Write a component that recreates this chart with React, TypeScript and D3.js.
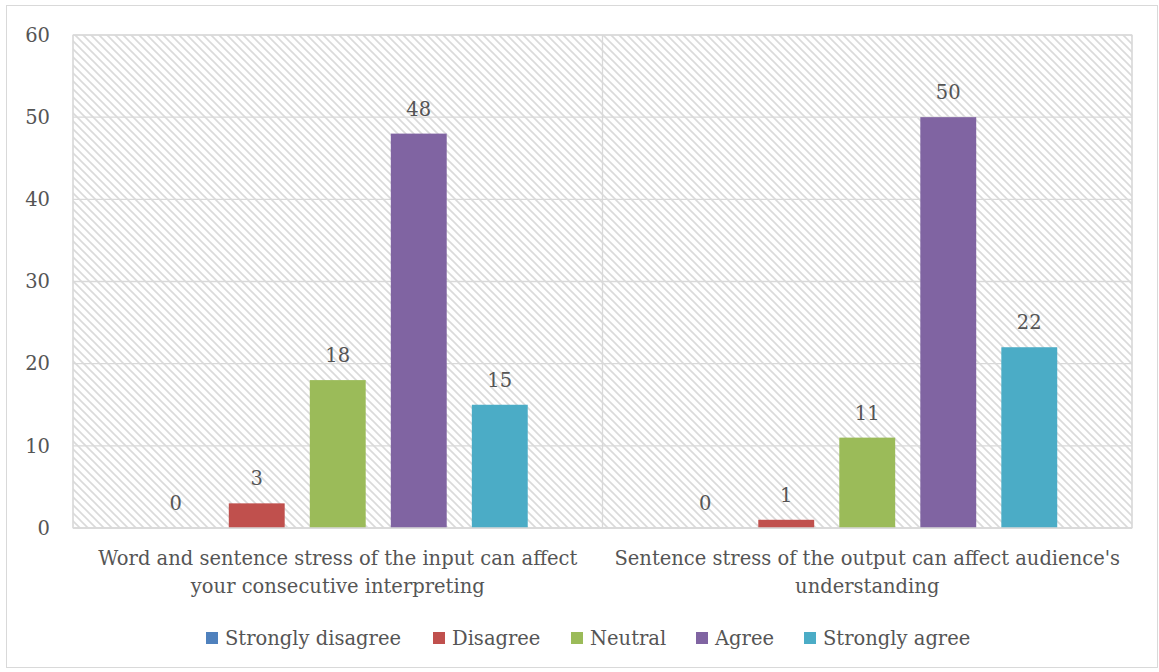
import React from "react";
import * as d3 from "d3";

// Survey statements (x-axis categories), each shown on two lines
const categories = [
  "Word and sentence stress of the input can affect your consecutive interpreting",
  "Sentence stress of the output can affect audience's understanding",
];
const categoryLines = [
  ["Word and sentence stress of the input can affect", "your consecutive interpreting"],
  ["Sentence stress of the output can affect audience's", "understanding"],
];

// Response options (series) and colours
const seriesNames = ["Strongly disagree", "Disagree", "Neutral", "Agree", "Strongly agree"];
const seriesColors = ["#4f81bd", "#c0504d", "#9bbb59", "#8064a2", "#4bacc6"];

// Counts per statement, in series order
const valuesStatement1 = [0, 3, 18, 48, 15];
const valuesStatement2 = [0, 1, 11, 50, 22];
const values = [valuesStatement1, valuesStatement2];

const yTicks = [0, 10, 20, 30, 40, 50, 60];

const W = 1159;
const H = 672;
const FONT = "'DejaVu Serif', serif";
const TEXT = "#555555";
const GRID = "#d9d9d9";
const FS = 19.5;

export default function App() {
  const left = 73;
  const right = 1132;
  const top = 35;
  const bottom = 528;

  const x0 = d3.scaleBand<string>().domain(categories).range([left, right]).padding(0);
  const x1 = d3
    .scaleBand<string>()
    .domain(seriesNames)
    .range([0, x0.bandwidth()])
    .paddingInner(0.31)
    .paddingOuter(0.923);
  const y = d3.scaleLinear().domain([0, 60]).range([bottom, top]);

  // legend swatch positions
  const legendX = [206, 433, 571, 696, 804];

  return (
    <svg
      width={W}
      height={H}
      style={{ position: "absolute", left: 0, top: 0, background: "#fff" }}
      fontFamily={FONT}
    >
      <defs>
        <pattern id="hatch" width={8} height={8} patternUnits="userSpaceOnUse">
          <rect width={8} height={8} fill="#ffffff" />
          <path
            d="M-2,-2 L10,10 M-2,6 L2,10 M6,-2 L10,2"
            stroke="#dadada"
            strokeWidth={1.6}
          />
        </pattern>
      </defs>

      {/* chart frame */}
      <rect x={6.5} y={5.5} width={1151} height={662} fill="#fff" stroke={GRID} />

      {/* plot area */}
      <rect x={left} y={top} width={right - left} height={bottom - top} fill="url(#hatch)" stroke={GRID} />

      {/* gridlines */}
      {yTicks.map((t) => (
        <line key={t} x1={left} x2={right} y1={y(t)} y2={y(t)} stroke={GRID} strokeWidth={1.3} />
      ))}
      {/* category separators */}
      {categories.map((c) => (
        <line key={c} x1={x0(c)!} x2={x0(c)!} y1={top} y2={bottom} stroke={GRID} strokeWidth={1.3} />
      ))}
      <line x1={right} x2={right} y1={top} y2={bottom} stroke={GRID} strokeWidth={1.3} />

      {/* y tick labels */}
      {yTicks.map((t) => (
        <text key={t} x={50} y={y(t)} dy="0.35em" textAnchor="end" fontSize={FS} fill={TEXT}>
          {t}
        </text>
      ))}

      {/* bars and value labels */}
      {categories.map((c, ci) => (
        <g key={c} transform={`translate(${x0(c)},0)`}>
          {seriesNames.map((s, si) => {
            const v = values[ci][si];
            const bx = x1(s)!;
            return (
              <g key={s}>
                <rect
                  x={bx}
                  y={y(v)}
                  width={x1.bandwidth()}
                  height={bottom - y(v)}
                  fill={seriesColors[si]}
                />
                <text
                  x={bx + x1.bandwidth() / 2}
                  y={y(v) - 18}
                  textAnchor="middle"
                  fontSize={FS}
                  fill={TEXT}
                >
                  {v}
                </text>
              </g>
            );
          })}
        </g>
      ))}

      {/* bottom axis line */}
      <line x1={left} x2={right} y1={bottom} y2={bottom} stroke={GRID} strokeWidth={1.5} />

      {/* category labels */}
      {categories.map((c, ci) => (
        <text key={c} textAnchor="middle" fontSize={FS} fill={TEXT}>
          {categoryLines[ci].map((line, li) => (
            <tspan key={li} x={x0(c)! + x0.bandwidth() / 2} y={565 + li * 28}>
              {line}
            </tspan>
          ))}
        </text>
      ))}

      {/* legend */}
      {seriesNames.map((s, i) => (
        <g key={s} transform={`translate(${legendX[i]},0)`}>
          <rect x={0} y={632} width={12} height={12} fill={seriesColors[i]} />
          <text x={19} y={645} fontSize={FS} fill={TEXT}>
            {s}
          </text>
        </g>
      ))}
    </svg>
  );
}
